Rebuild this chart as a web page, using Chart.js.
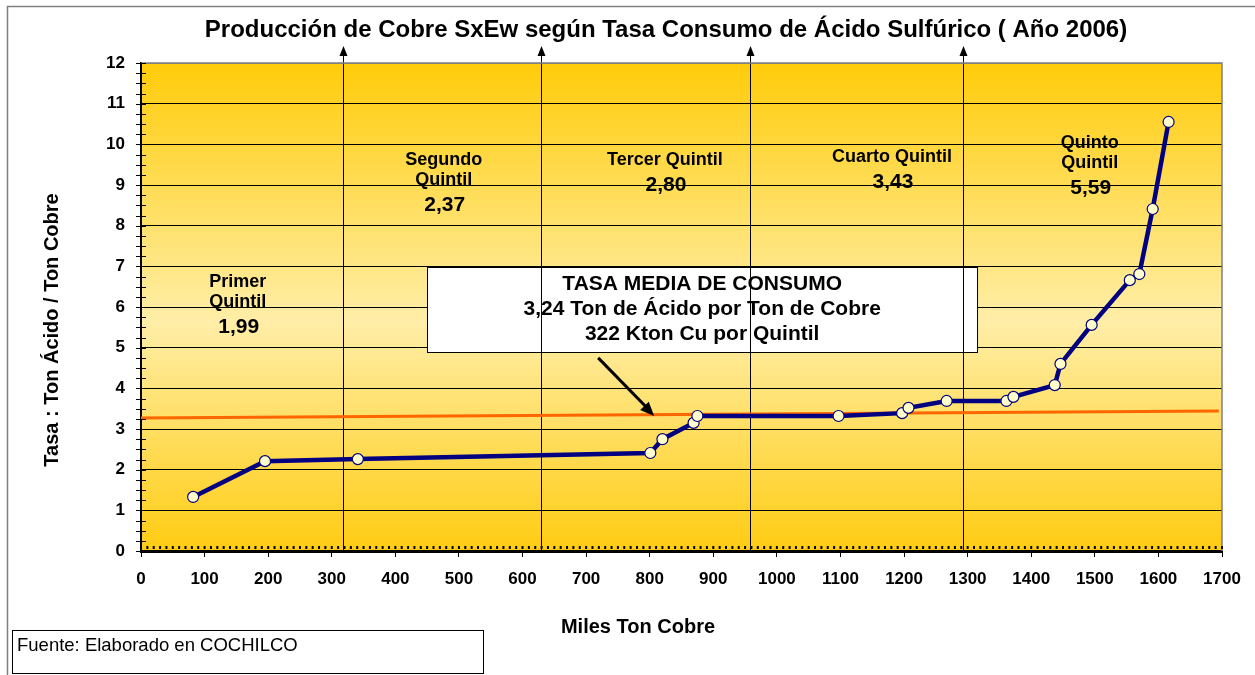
<!DOCTYPE html>
<html>
<head>
<meta charset="utf-8">
<script src="https://cdn.jsdelivr.net/npm/chart.js@4.4.1/dist/chart.umd.min.js"></script>
<style>
  html, body { margin: 0; padding: 0; background: #fff; }
</style>
</head>
<body>
<canvas id="acidChart" width="1255" height="675"></canvas>
<script>
// production (thousand t Cu) vs acid consumption rate
const copperKt = [82, 195, 341, 801, 820, 869, 875, 1097, 1197, 1207, 1267, 1361, 1372, 1437, 1446, 1495, 1555, 1570, 1591, 1616];
const acidRate = [1.33, 2.21, 2.26, 2.41, 2.75, 3.15, 3.32, 3.32, 3.39, 3.52, 3.69, 3.69, 3.79, 4.08, 4.60, 5.56, 6.66, 6.81, 8.41, 10.55];
const meanKt = [0, 1695];
const meanRate = [3.27, 3.44];
const quintilBounds = [318, 629, 958, 1293];
const quintilNames = [['Primer', 'Quintil'], ['Segundo', 'Quintil'], ['Tercer Quintil'], ['Cuarto Quintil'], ['Quinto', 'Quintil']];
const quintilRates = ['1,99', '2,37', '2,80', '3,43', '5,59'];
const xTickValues = [0, 100, 200, 300, 400, 500, 600, 700, 800, 900, 1000, 1100, 1200, 1300, 1400, 1500, 1600, 1700];
const yTickValues = [0, 1, 2, 3, 4, 5, 6, 7, 8, 9, 10, 11, 12];
const boxLines = ['TASA MEDIA DE CONSUMO', '3,24 Ton de Ácido por Ton de Cobre', '322 Kton Cu por Quintil'];

const FONT = "'Liberation Sans', Arial, sans-serif";

// where the text annotations sit, in data units
const labelAt = [[152, 6.61], [476, 9.61], [824, 9.61], [1181, 9.69], [1492, 10.03]];
const boxAt = { x0: 450, x1: 1315, y0: 6.98, y1: 4.89 };
const pointerAt = { x0: 719, y0: 4.75, x1: 807, y1: 3.32 };

function arrowHead(ctx, x1, y1, x2, y2, len, half) {
  const ang = Math.atan2(y2 - y1, x2 - x1);
  ctx.beginPath();
  ctx.moveTo(x2, y2);
  ctx.lineTo(x2 - len * Math.cos(ang) + half * Math.sin(ang), y2 - len * Math.sin(ang) - half * Math.cos(ang));
  ctx.lineTo(x2 - len * Math.cos(ang) - half * Math.sin(ang), y2 - len * Math.sin(ang) + half * Math.cos(ang));
  ctx.closePath();
  ctx.fill();
}

const decor = {
  id: 'decor',
  beforeDraw(chart) {
    const { ctx, chartArea: a } = chart;
    ctx.save();
    ctx.fillStyle = '#fff';
    ctx.fillRect(0, 0, chart.width, chart.height);
    const g = ctx.createLinearGradient(0, a.top, 0, a.bottom);
    g.addColorStop(0, '#ffcc0a');
    g.addColorStop(0.53, '#ffeea8');
    g.addColorStop(1, '#ffcc12');
    ctx.fillStyle = g;
    ctx.fillRect(a.left, a.top, a.right - a.left, a.bottom - a.top);
    ctx.strokeStyle = '#808080';
    ctx.lineWidth = 1.5;
    ctx.strokeRect(7.5, 6.5, chart.width, chart.height);
    ctx.restore();
  },
  beforeDatasetsDraw(chart) {
    const { ctx, chartArea: a, scales: { x, y } } = chart;
    ctx.save();
    // summary box
    const bx0 = x.getPixelForValue(boxAt.x0), bx1 = x.getPixelForValue(boxAt.x1);
    const by0 = y.getPixelForValue(boxAt.y0), by1 = y.getPixelForValue(boxAt.y1);
    ctx.fillStyle = '#fff';
    ctx.fillRect(bx0, by0, bx1 - bx0, by1 - by0);
    ctx.strokeStyle = '#000';
    ctx.lineWidth = 1;
    ctx.strokeRect(Math.round(bx0) + 0.5, Math.round(by0) + 0.5, bx1 - bx0, by1 - by0);
    ctx.fillStyle = '#000';
    ctx.font = 'bold 21px ' + FONT;
    ctx.textAlign = 'center';
    ctx.textBaseline = 'middle';
    boxLines.forEach((t, i) => ctx.fillText(t, (bx0 + bx1) / 2, by0 + 17 + i * 25));
    // quintile boundary arrows
    ctx.strokeStyle = '#000';
    ctx.lineWidth = 1;
    quintilBounds.forEach(b => {
      const px = Math.round(x.getPixelForValue(b)) + 0.5;
      ctx.beginPath();
      ctx.moveTo(px, a.bottom);
      ctx.lineTo(px, a.top - 10);
      ctx.stroke();
      arrowHead(ctx, px, a.bottom, px, a.top - 17, 10, 4);
    });
    ctx.restore();
  },
  afterDraw(chart) {
    const { ctx, chartArea: a, scales: { x, y } } = chart;
    ctx.save();
    // plot frame top/right
    ctx.strokeStyle = '#808080';
    ctx.lineWidth = 1.5;
    ctx.beginPath();
    ctx.moveTo(a.left, a.top);
    ctx.lineTo(a.right, a.top);
    ctx.lineTo(a.right, a.bottom);
    ctx.stroke();
    // minor ticks
    ctx.fillStyle = '#000';
    for (let v = 0; v <= 1700; v += 10) {
      const px = x.getPixelForValue(v);
      ctx.fillRect(px - 1, a.bottom - 5, 2, 3);
    }
    ctx.strokeStyle = '#000';
    ctx.lineWidth = 1;
    for (let v = 0; v <= 12; v += 0.25) {
      const py = Math.round(y.getPixelForValue(v)) + 0.5;
      ctx.beginPath();
      ctx.moveTo(a.left - 5, py);
      ctx.lineTo(a.left + 5, py);
      ctx.stroke();
    }
    // pointer from the box to the mean line
    const p0x = x.getPixelForValue(pointerAt.x0), p0y = y.getPixelForValue(pointerAt.y0);
    const p1x = x.getPixelForValue(pointerAt.x1), p1y = y.getPixelForValue(pointerAt.y1);
    ctx.lineWidth = 3;
    ctx.beginPath();
    ctx.moveTo(p0x, p0y);
    ctx.lineTo(p1x - 6, p1y - 7);
    ctx.stroke();
    arrowHead(ctx, p0x, p0y, p1x, p1y, 14, 6);
    // quintile labels
    ctx.textAlign = 'center';
    ctx.textBaseline = 'middle';
    quintilNames.forEach((lines, i) => {
      const lx = x.getPixelForValue(labelAt[i][0]);
      let ly = y.getPixelForValue(labelAt[i][1]);
      ctx.font = 'bold 18px ' + FONT;
      lines.forEach((t, j) => ctx.fillText(t, lx, ly + j * 20));
      ctx.font = 'bold 21px ' + FONT;
      ctx.fillText(quintilRates[i], lx + 1, ly + (lines.length - 1) * 20 + 25);
    });
    // titles
    ctx.font = 'bold 24px ' + FONT;
    ctx.fillText('Producción de Cobre SxEw según Tasa Consumo de Ácido Sulfúrico ( Año 2006)', 666, 30);
    ctx.font = 'bold 20px ' + FONT;
    ctx.fillText('Miles Ton Cobre', 638, 627);
    ctx.save();
    ctx.translate(52, 330);
    ctx.rotate(-Math.PI / 2);
    ctx.fillText('Tasa : Ton Ácido / Ton Cobre', 0, 0);
    ctx.restore();
    // source note
    ctx.strokeStyle = '#000';
    ctx.lineWidth = 1;
    ctx.strokeRect(12.5, 630.5, 471, 43);
    ctx.font = '18.5px ' + FONT;
    ctx.textAlign = 'left';
    ctx.fillText('Fuente: Elaborado en COCHILCO', 17, 646);
    ctx.restore();
  }
};

const ctx = document.getElementById('acidChart').getContext('2d');
new Chart(ctx, {
  type: 'line',
  data: {
    datasets: [
      {
        label: 'Tasa de consumo',
        data: copperKt.map((v, i) => ({ x: v, y: acidRate[i] })),
        borderColor: '#000080',
        borderWidth: 4.5,
        pointRadius: 5.5,
        pointBackgroundColor: '#ffffcc',
        pointBorderColor: '#000080',
        pointBorderWidth: 1.2,
        order: 0,
      },
      {
        label: 'Tasa media',
        data: meanKt.map((v, i) => ({ x: v, y: meanRate[i] })),
        borderColor: '#ff6600',
        borderWidth: 3,
        pointRadius: 0,
        order: 1,
      },
    ],
  },
  options: {
    responsive: false,
    animation: false,
    devicePixelRatio: 1,
    layout: { padding: { left: 0, top: 63, right: 33, bottom: 0 } },
    plugins: {
      legend: { display: false },
      tooltip: { enabled: false },
    },
    scales: {
      x: {
        type: 'linear',
        min: 0,
        max: 1700,
        afterBuildTicks: (s) => { s.ticks = xTickValues.map(v => ({ value: v })); },
        afterFit: (s) => { s.height = 124; },
        grid: { drawOnChartArea: false, drawTicks: true, tickLength: 6, color: '#000' },
        border: { color: '#000', width: 3 },
        ticks: {
          color: '#000',
          padding: 12,
          font: { family: FONT, size: 17, weight: 'bold' },
          callback: (v) => String(v),
        },
      },
      y: {
        min: 0,
        max: 12,
        afterBuildTicks: (s) => { s.ticks = yTickValues.map(v => ({ value: v })); },
        afterFit: (s) => { s.width = 141; },
        grid: {
          drawTicks: false,
          color: (c) => (c.tick && c.tick.value === 12 ? '#808080' : '#000'),
          lineWidth: 1,
        },
        border: { color: '#000', width: 2 },
        ticks: { color: '#000', padding: 16, font: { family: FONT, size: 17, weight: 'bold' } },
      },
    },
  },
  plugins: [decor],
});
</script>
</body>
</html>
